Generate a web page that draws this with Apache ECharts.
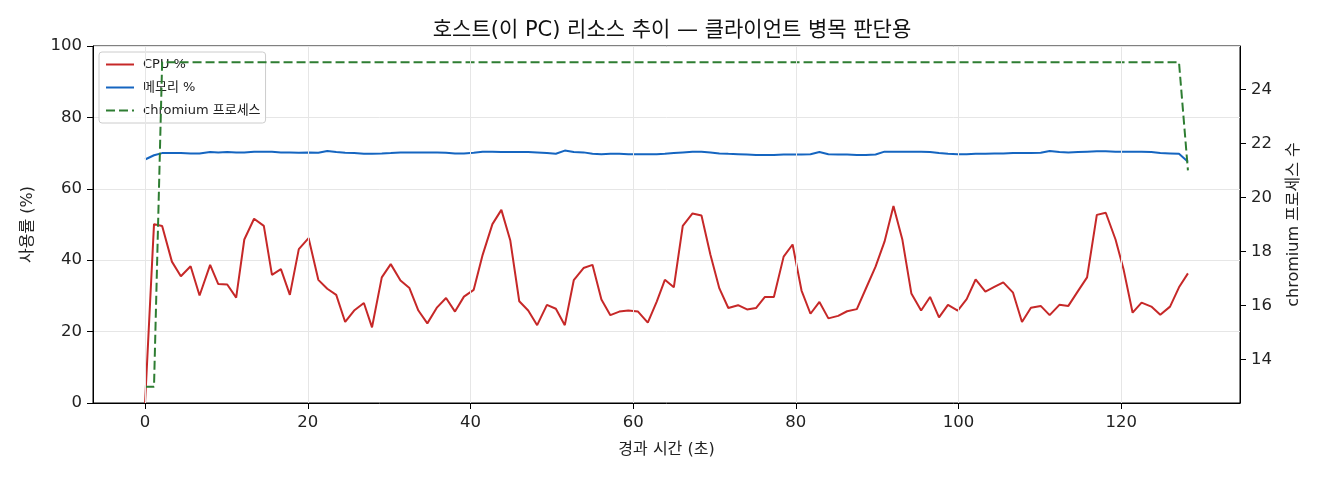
<!DOCTYPE html>
<html>
<head>
<meta charset="utf-8">
<style>
  html, body { margin: 0; padding: 0; background: #fff; }
  #chart { width: 1320px; height: 480px; }
</style>
<script src="https://cdn.jsdelivr.net/npm/echarts@6/dist/echarts.min.js"></script>
</head>
<body>
<div id="chart"></div>
<script>
// 경과 시간 (초)
var times = [0, 1.1, 2.1, 3.3, 4.4, 5.6, 6.7, 8.0, 9.0, 10.1, 11.2, 12.2, 13.4, 14.6, 15.6, 16.7, 17.8, 18.9, 20.1, 21.3,
  22.4, 23.5, 24.6, 25.7, 26.9, 27.9, 29.1, 30.2, 31.4, 32.5, 33.6, 34.7, 35.9, 37.0, 38.1, 39.2, 40.4, 41.5, 42.7, 43.8,
  44.9, 46.0, 47.1, 48.2, 49.4, 50.5, 51.6, 52.7, 53.9, 55.0, 56.1, 57.2, 58.3, 59.4, 60.6, 61.8, 62.9, 63.9, 65.0, 66.1,
  67.3, 68.4, 69.5, 70.6, 71.7, 72.9, 74.0, 75.1, 76.2, 77.3, 78.5, 79.6, 80.7, 81.8, 82.9, 84.0, 85.2, 86.3, 87.5, 88.6,
  89.8, 90.9, 92.0, 93.1, 94.2, 95.4, 96.5, 97.6, 98.7, 99.9, 101.0, 102.1, 103.3, 104.4, 105.5, 106.7, 107.8, 108.9, 110.1, 111.2,
  112.4, 113.5, 114.7, 115.8, 117.0, 118.1, 119.3, 120.3, 121.4, 122.5, 123.7, 124.8, 126.0, 127.1, 128.2];

// CPU %
var cpu = [0, 50.1, 49.6, 39.6, 35.5, 38.3, 30.1, 38.7, 33.3, 33.2, 29.5, 45.8, 51.6, 49.6, 35.9, 37.5, 30.3, 43.1, 46.2, 34.5,
  32.0, 30.3, 22.7, 25.9, 28.0, 21.2, 35.2, 38.9, 34.3, 32.2, 25.9, 22.3, 26.8, 29.4, 25.6, 29.8, 31.7, 41.5, 50.1, 54.1,
  45.5, 28.5, 25.9, 21.8, 27.5, 26.4, 21.8, 34.4, 37.8, 38.7, 29.0, 24.6, 25.6, 25.9, 25.6, 22.5, 28.4, 34.5, 32.4, 49.6,
  53.1, 52.5, 41.5, 32.1, 26.6, 27.4, 26.2, 26.6, 29.7, 29.7, 41.0, 44.4, 31.5, 25.0, 28.3, 23.7, 24.4, 25.7, 26.3, 32.0,
  38.2, 45.2, 55.2, 45.7, 30.7, 25.9, 29.7, 24.0, 27.5, 25.9, 29.1, 34.6, 31.2, 32.5, 33.8, 30.9, 22.7, 26.7, 27.2, 24.6,
  27.5, 27.2, 31.4, 35.2, 52.7, 53.3, 45.8, 37.3, 25.3, 28.1, 27.0, 24.7, 27.0, 32.4, 36.3];

// 메모리 %
var memory = [68.2, 69.4, 70.0, 70.0, 70.0, 69.9, 69.9, 70.3, 70.2, 70.3, 70.2, 70.2, 70.4, 70.4, 70.4, 70.2, 70.2, 70.1, 70.2, 70.1,
  70.6, 70.3, 70.1, 70.0, 69.8, 69.8, 69.9, 70.0, 70.2, 70.2, 70.2, 70.2, 70.2, 70.1, 69.9, 69.9, 70.1, 70.4, 70.4, 70.3,
  70.3, 70.3, 70.3, 70.2, 70.0, 69.8, 70.7, 70.3, 70.2, 69.8, 69.7, 69.8, 69.8, 69.7, 69.7, 69.7, 69.7, 69.8, 70.0, 70.2,
  70.4, 70.4, 70.2, 69.9, 69.8, 69.7, 69.6, 69.5, 69.5, 69.5, 69.6, 69.6, 69.6, 69.7, 70.3, 69.7, 69.6, 69.6, 69.5, 69.5,
  69.6, 70.4, 70.4, 70.4, 70.4, 70.4, 70.3, 70.0, 69.8, 69.7, 69.7, 69.8, 69.8, 69.9, 69.9, 70.0, 70.0, 70.0, 70.1, 70.6,
  70.3, 70.2, 70.3, 70.4, 70.5, 70.5, 70.4, 70.4, 70.4, 70.4, 70.3, 70.0, 69.9, 69.8, 67.6];

// chromium 프로세스 수 (값이 바뀌는 시점)
var chromiumTimes = [0, 1.1, 2.1, 127.1, 128.2];
var chromiumCount = [13, 13, 25, 25, 21];

var xTicks = [0, 20, 40, 60, 80, 100, 120];
var rightTicks = [14, 16, 18, 20, 22, 24];

function pairs(xs, ys) {
  var out = [];
  for (var i = 0; i < xs.length; i++) out.push([xs[i], ys[i]]);
  return out;
}

var FONT = '"DejaVu Sans", "Noto Sans CJK KR", sans-serif';
var chart = echarts.init(document.getElementById('chart'));

var option = {
  animation: false,
  textStyle: { fontFamily: FONT },
  title: {
    text: '호스트(이 PC) 리소스 추이 — 클라이언트 병목 판단용',
    left: 667, top: 15, textAlign: 'center',
    textStyle: { fontFamily: FONT, fontSize: 21, fontWeight: 'normal', color: '#111' }
  },
  legend: {
    data: ['CPU %', '메모리 %', 'chromium 프로세스'],
    orient: 'vertical',
    left: 99, top: 52,
    itemWidth: 28, itemHeight: 10, itemGap: 10,
    padding: [6, 5, 6, 6],
    backgroundColor: 'rgba(255,255,255,0.85)',
    borderColor: '#cccccc', borderWidth: 1, borderRadius: 3,
    itemStyle: { opacity: 0 },
    textStyle: { fontFamily: FONT, fontSize: 13, color: '#222', padding: [0, 0, 0, 4] }
  },
  grid: {
    left: 93, right: 80, top: 46, bottom: 77,
    show: true, borderColor: '#000', borderWidth: 1, backgroundColor: 'transparent'
  },
  xAxis: {
    type: 'value', min: -6.4, max: 134.6,
    name: '경과 시간 (초)', nameLocation: 'middle', nameGap: 39,
    nameTextStyle: { fontFamily: FONT, fontSize: 16, color: '#222' },
    axisLine: { show: true, onZero: false, lineStyle: { color: '#000' } },
    axisTick: { show: true, length: 6, customValues: xTicks, lineStyle: { color: '#000' } },
    axisLabel: { customValues: xTicks, fontSize: 16.5, color: '#222', margin: 11 },
    splitLine: { show: false }
  },
  yAxis: [
    {
      type: 'value', min: 0, max: 100, interval: 20, position: 'left',
      name: '사용률 (%)', nameLocation: 'middle', nameGap: 57, nameRotate: 90,
      nameTextStyle: { fontFamily: FONT, fontSize: 16, color: '#222' },
      axisLine: { show: true, onZero: false, lineStyle: { color: '#000' } },
      axisTick: { show: true, length: 6, lineStyle: { color: '#000' } },
      axisLabel: { fontSize: 16.5, color: '#222', margin: 11 },
      splitLine: { show: true, lineStyle: { color: '#e6e6e6', width: 1 } }
    },
    {
      type: 'value', min: 12.4, max: 25.6, position: 'right',
      name: 'chromium 프로세스 수', nameLocation: 'middle', nameGap: 46, nameRotate: 90,
      nameTextStyle: { fontFamily: FONT, fontSize: 16, color: '#222' },
      axisLine: { show: true, onZero: false, lineStyle: { color: '#000' } },
      axisTick: { show: true, length: 6, customValues: rightTicks, lineStyle: { color: '#000' } },
      axisLabel: { customValues: rightTicks, fontSize: 16.5, color: '#222', margin: 11 },
      splitLine: { show: false }
    }
  ],
  series: [
    {
      name: 'xgrid', type: 'line', data: [], z: 0, silent: true,
      markLine: {
        silent: true, symbol: ['none', 'none'], label: { show: false },
        lineStyle: { color: '#e6e6e6', type: 'solid', width: 1 },
        data: xTicks.map(function (v) { return { xAxis: v }; })
      }
    },
    {
      name: 'CPU %', type: 'line', yAxisIndex: 0, symbol: 'none',
      data: pairs(times, cpu),
      lineStyle: { color: '#c62828', width: 2 }, itemStyle: { color: '#c62828' }, z: 3
    },
    {
      name: '메모리 %', type: 'line', yAxisIndex: 0, symbol: 'none',
      data: pairs(times, memory),
      lineStyle: { color: '#1565c0', width: 2 }, itemStyle: { color: '#1565c0' }, z: 3
    },
    {
      name: 'chromium 프로세스', type: 'line', yAxisIndex: 1, symbol: 'none',
      data: pairs(chromiumTimes, chromiumCount),
      lineStyle: { color: '#2e7d32', width: 2, type: [9, 4] }, itemStyle: { color: '#2e7d32' }, z: 4
    }
  ]
};

chart.setOption(option);
</script>
</body>
</html>
